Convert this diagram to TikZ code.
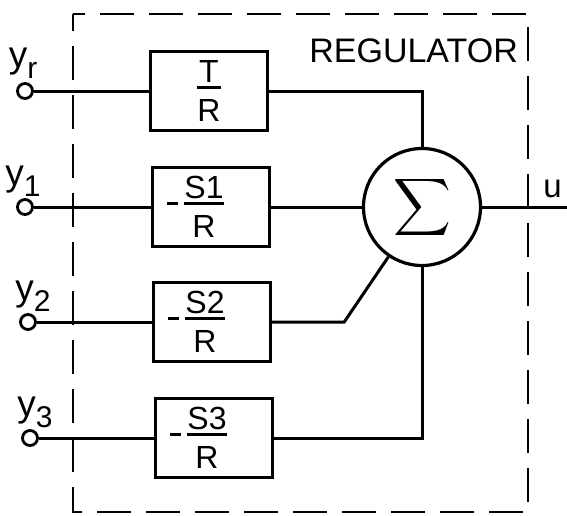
\documentclass[tikz,border=0pt]{standalone}
\usepackage{amsmath}
\usepackage{graphicx}
\usepackage{fontspec}
\setmainfont{Liberation Sans}
\usetikzlibrary{positioning}

% fraction with a heavy bar, full size text
\newcommand{\blockfrac}[2]{$\genfrac{}{}{3.2pt}{1}{\hbox{#1}}{\hbox{\rule{0pt}{29pt}#2}}$}
\newcommand{\negsign}{\rule[5pt]{11pt}{2.8pt}\hspace{5pt}}
\newcommand{\padright}{\rule{30pt}{0pt}}
\newcommand{\inname}[1]{y\raisebox{-11pt}{\fontsize{30}{32}\selectfont #1}}

\begin{document}
\begin{tikzpicture}[
    x=1pt, y=-1pt,
    block/.style={
        rectangle,
        draw=black,
        line width=3.4pt,
        minimum width=117pt,
        minimum height=79pt,
        inner sep=0pt,
        font=\fontsize{32}{34}\selectfont
    },
    port/.style={
        circle,
        draw=black,
        line width=2.8pt,
        minimum size=15pt,
        inner sep=0pt
    },
    sumnode/.style={
        circle,
        draw=black,
        line width=3.2pt,
        minimum size=117pt,
        inner sep=0pt
    },
    wire/.style={line width=3pt},
    frame/.style={line width=2.8pt, dash pattern=on 34pt off 15pt, dash phase=17pt},
    lbl/.style={font=\fontsize{33}{35}\selectfont, inner sep=0pt},
    inlbl/.style={font=\fontsize{37}{39}\selectfont, inner sep=0pt},
]
\useasboundingbox (0,0) rectangle (567,515);

% nodes
\node[block] (gr) at (209,91)  {\blockfrac{T}{R}};
\node[block] (g1) at (211,207) {\negsign\blockfrac{S1}{R}\padright};
\node[block] (g2) at (212,322) {\negsign\blockfrac{S2}{R}\padright};
\node[block] (g3) at (214,438) {\negsign\blockfrac{S3}{R}\padright};

\node[port] (pr) at (25,91)  {};
\node[port] (p1) at (25,207) {};
\node[port] (p2) at (28,322) {};
\node[port] (p3) at (30,438) {};

\node[inlbl, above=3pt of pr, xshift=-2pt] (lr) {\inname{r}};
\node[inlbl, above=1pt of p1, xshift=-2pt] (l1) {\inname{1}};
\node[inlbl, above=1pt of p2, xshift=5pt]  (l2) {\inname{2}};
\node[inlbl, above=1pt of p3, xshift=5pt]  (l3) {\inname{3}};

\node[sumnode] (sum) at (422,207) {\scalebox{4}{$\displaystyle\sum$}};
\coordinate (out) at (567,207);
\node[lbl, above left=9pt and 5pt of out] (lu) {u};

\node[lbl, anchor=north east, font=\fontsize{34}{36}\selectfont] (reg) at (518,39) {REGULATOR};

% frame
\draw[frame] (73,14) rectangle (528,512);

% connections
\draw[wire] (pr) -- (gr);
\draw[wire] (p1) -- (g1);
\draw[wire] (p2) -- (g2);
\draw[wire] (p3) -- (g3);

\draw[wire] (gr.east) -| (sum.north);
\draw[wire] (g1.east) -- (sum.west);
\draw[wire] (g2.east) -- ++(72,0) -- (sum.236);
\draw[wire] (g3.east) -| (sum.south);
\draw[wire] (sum.east) -- (out);

\end{tikzpicture}
\end{document}
